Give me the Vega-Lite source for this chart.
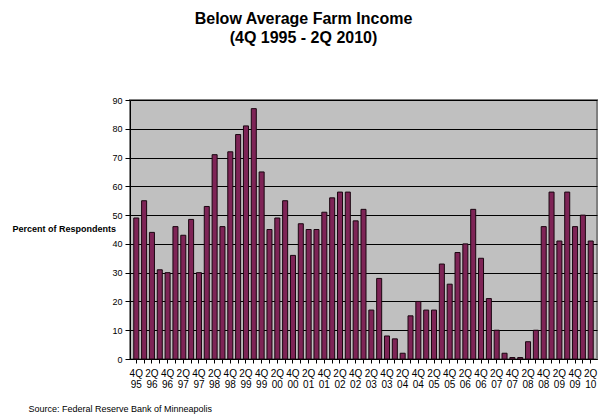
{
  "$schema": "https://vega.github.io/schema/vega-lite/v6.json",
  "autosize": "none",
  "width": 467,
  "height": 259,
  "padding": {"left": 130, "top": 100, "right": 13, "bottom": 59},
  "background": "#FFFFFF",
  "title": {
    "text": ["Below Average Farm Income", "(4Q 1995 - 2Q 2010)"],
    "font": "Liberation Sans",
    "fontSize": 16,
    "fontWeight": "bold",
    "lineHeight": 19,
    "color": "#000000",
    "anchor": "middle",
    "frame": "group",
    "dx": -60,
    "offset": 50
  },
  "config": {
    "view": {"fill": "#C0C0C0", "stroke": "#808080", "strokeWidth": 2},
    "axis": {
      "labelFont": "Liberation Sans",
      "titleFont": "Liberation Sans",
      "labelColor": "#000000",
      "titleColor": "#000000",
      "domainColor": "#000000",
      "tickColor": "#000000"
    }
  },
  "data": {
    "values": [
      {"q": "4Q95", "pct": 49},
      {"q": "1Q96", "pct": 55},
      {"q": "2Q96", "pct": 44},
      {"q": "3Q96", "pct": 31},
      {"q": "4Q96", "pct": 30},
      {"q": "1Q97", "pct": 46},
      {"q": "2Q97", "pct": 43},
      {"q": "3Q97", "pct": 48.5},
      {"q": "4Q97", "pct": 30},
      {"q": "1Q98", "pct": 53},
      {"q": "2Q98", "pct": 71},
      {"q": "3Q98", "pct": 46},
      {"q": "4Q98", "pct": 72},
      {"q": "1Q99", "pct": 78},
      {"q": "2Q99", "pct": 81},
      {"q": "3Q99", "pct": 87},
      {"q": "4Q99", "pct": 65},
      {"q": "1Q00", "pct": 45},
      {"q": "2Q00", "pct": 49},
      {"q": "3Q00", "pct": 55},
      {"q": "4Q00", "pct": 36},
      {"q": "1Q01", "pct": 47},
      {"q": "2Q01", "pct": 45},
      {"q": "3Q01", "pct": 45},
      {"q": "4Q01", "pct": 51},
      {"q": "1Q02", "pct": 56},
      {"q": "2Q02", "pct": 58},
      {"q": "3Q02", "pct": 58},
      {"q": "4Q02", "pct": 48},
      {"q": "1Q03", "pct": 52},
      {"q": "2Q03", "pct": 17},
      {"q": "3Q03", "pct": 28},
      {"q": "4Q03", "pct": 8},
      {"q": "1Q04", "pct": 7},
      {"q": "2Q04", "pct": 2},
      {"q": "3Q04", "pct": 15},
      {"q": "4Q04", "pct": 20},
      {"q": "1Q05", "pct": 17},
      {"q": "2Q05", "pct": 17},
      {"q": "3Q05", "pct": 33},
      {"q": "4Q05", "pct": 26},
      {"q": "1Q06", "pct": 37},
      {"q": "2Q06", "pct": 40},
      {"q": "3Q06", "pct": 52},
      {"q": "4Q06", "pct": 35},
      {"q": "1Q07", "pct": 21},
      {"q": "2Q07", "pct": 10},
      {"q": "3Q07", "pct": 2},
      {"q": "4Q07", "pct": 0.5},
      {"q": "1Q08", "pct": 0.5},
      {"q": "2Q08", "pct": 6},
      {"q": "3Q08", "pct": 10},
      {"q": "4Q08", "pct": 46},
      {"q": "1Q09", "pct": 58},
      {"q": "2Q09", "pct": 41},
      {"q": "3Q09", "pct": 58},
      {"q": "4Q09", "pct": 46},
      {"q": "1Q10", "pct": 50},
      {"q": "2Q10", "pct": 41}
    ]
  },
  "mark": {"type": "bar", "fill": "#7E2456", "stroke": "#1A0610", "strokeWidth": 1},
  "encoding": {
    "x": {
      "field": "q",
      "type": "ordinal",
      "sort": null,
      "scale": {"paddingInner": 0.36, "paddingOuter": 0.48},
      "axis": {
        "labelAngle": 0,
        "labelFontSize": 10,
        "labelLineHeight": 11,
        "labelPadding": 5,
        "tickSize": 4,
        "labelExpr": "(substring(datum.value,0,1) == '4' || substring(datum.value,0,1) == '2') ? [substring(datum.value,0,2), substring(datum.value,2,4)] : ''",
        "title": "Source: Federal Reserve Bank of Minneapolis",
        "titleFontSize": 9,
        "titleFontWeight": "normal",
        "titleAlign": "left",
        "titleAnchor": "start",
        "titleBaseline": "alphabetic",
        "titleX": -102,
        "titleY": 52
      }
    },
    "y": {
      "field": "pct",
      "type": "quantitative",
      "scale": {"domain": [0, 90]},
      "axis": {
        "values": [0, 10, 20, 30, 40, 50, 60, 70, 80, 90],
        "grid": true,
        "gridColor": "#000000",
        "gridWidth": 1,
        "labelFontSize": 9,
        "tickSize": 5,
        "labelPadding": 3,
        "title": "Percent of Respondents",
        "titleAngle": 0,
        "titleFontSize": 9,
        "titleFontWeight": "bold",
        "titleAlign": "left",
        "titleBaseline": "middle",
        "titleX": -118,
        "titleY": 128
      }
    }
  }
}
